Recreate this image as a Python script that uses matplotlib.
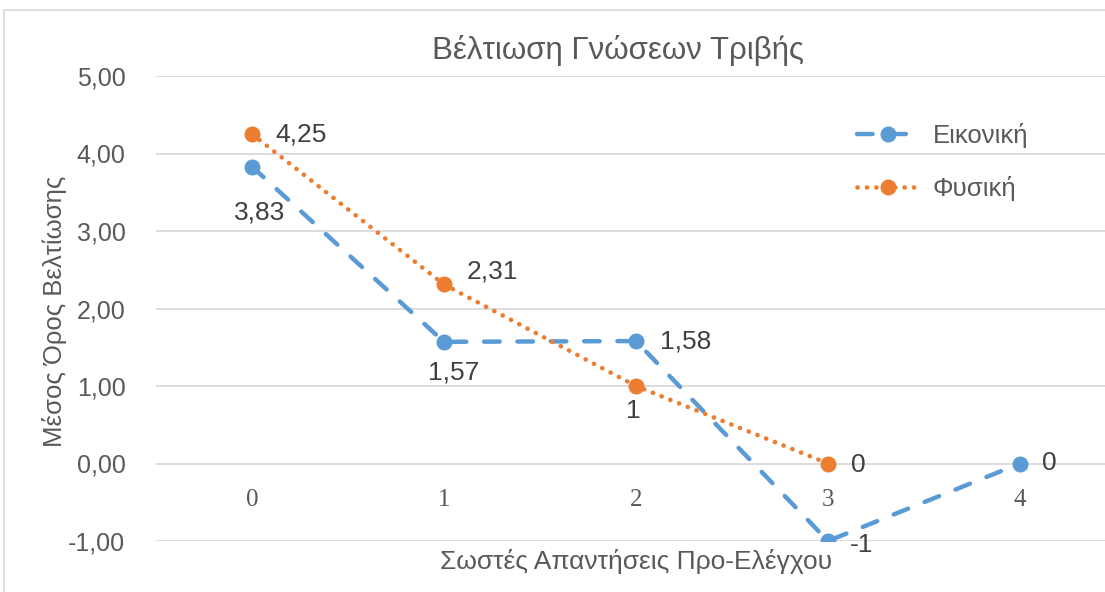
import matplotlib
matplotlib.use("Agg")
import matplotlib.pyplot as plt
from matplotlib.ticker import FuncFormatter, FixedLocator
from matplotlib.patches import Rectangle

categories = [0, 1, 2, 3, 4]
eikoniki = [3.83, 1.57, 1.58, -1, 0]
fysiki_x = [0, 1, 2, 3]
fysiki = [4.25, 2.31, 1, 0]
eik_labels = ["3,83", "1,57", "1,58", "-1", "0"]
fys_labels = ["4,25", "2,31", "1", "0"]

BLUE = "#5B9BD5"
ORANGE = "#ED7D31"
TXT = "#595959"
GRID = "#D9D9D9"

plt.rcParams["font.family"] = ["Liberation Sans", "DejaVu Sans"]

W, H = 1105, 592
fig = plt.figure(figsize=(W / 100, H / 100), dpi=100)
fig.patches.append(Rectangle((4 / W, -0.1), 1.2, 1 - 10 / H + 0.1,
                             transform=fig.transFigure, fill=False,
                             edgecolor=GRID, linewidth=1.2))

ax_l, ax_r, ax_t, ax_b = 156, W, 76, 541
ax = fig.add_axes([ax_l / W, 1 - ax_b / H, (ax_r - ax_l) / W, (ax_b - ax_t) / H])
ax.set_xlim(-0.5, (W - 252) / 192.0)
ax.set_ylim(-1, 5)

ax.yaxis.set_major_locator(FixedLocator([-1, 0, 1, 2, 3, 4, 5]))
ax.yaxis.set_major_formatter(FuncFormatter(lambda v, p: f"{v:.2f}".replace(".", ",")))
ax.grid(axis="y", color=GRID, linewidth=1.3)
ax.set_axisbelow(True)
for s in ax.spines.values():
    s.set_visible(False)
ax.spines["bottom"].set_position(("data", 0))
ax.tick_params(axis="y", length=0, labelsize=18, labelcolor=TXT, pad=22)
ax.set_xticks(categories)
ax.set_xticklabels([str(c) for c in categories], fontfamily="Liberation Serif")
ax.tick_params(axis="x", length=0, labelsize=18, labelcolor=TXT, pad=18)

ax.plot(categories, eikoniki, color=BLUE, linewidth=3.2, linestyle=(0, (3.5, 4.0)),
        marker="o", markersize=10.5, label="Εικονική", dash_capstyle="round",
        solid_capstyle="round", zorder=3)
ax.plot(fysiki_x, fysiki, color=ORANGE, linewidth=3.3, linestyle=(0, (0.05, 2.0)),
        marker="o", markersize=10.5, label="Φυσική", dash_capstyle="round", zorder=4)

lab_kw = dict(fontsize=19, color="#404040")
# (dx, dy) offsets in pixels from the point, and alignment
eik_off = [((8, -46), "center"), ((10, -31), "center"), ((24, 0), "left"),
           ((22, -4), "left"), ((22, 0), "left")]
fys_off = [((23, 0), "left"), ((23, 13), "left"), ((-3, -25), "center"), ((23, -2), "left")]
px2pt = 72 / 100
for x, y, t, ((dx, dy), ha) in zip(categories, eikoniki, eik_labels, eik_off):
    ax.annotate(t, (x, y), xytext=(dx * px2pt, dy * px2pt), textcoords="offset points",
                ha=ha, va="center", **lab_kw)
for x, y, t, ((dx, dy), ha) in zip(fysiki_x, fysiki, fys_labels, fys_off):
    ax.annotate(t, (x, y), xytext=(dx * px2pt, dy * px2pt), textcoords="offset points",
                ha=ha, va="center", **lab_kw)

leg = ax.legend(loc="upper left",
                bbox_to_anchor=((857 - ax_l) / (ax_r - ax_l), 1 - (123 - ax_t) / (ax_b - ax_t)),
                frameon=False, fontsize=18.5, labelcolor=TXT, handlelength=2.4,
                labelspacing=1.1, handletextpad=0.55, borderpad=0, borderaxespad=0)

fig.text(618 / W, 1 - 50 / H, "Βέλτιωση Γνώσεων Τριβής", ha="center", va="center",
         fontsize=22.5, color=TXT)
fig.text(636 / W, 1 - 561 / H, "Σωστές Απαντήσεις Προ-Ελέγχου", ha="center", va="center",
         fontsize=19, color=TXT)
fig.text(55 / W, 1 - 311 / H, "Μέσος Όρος Βελτίωσης", ha="center", va="center",
         rotation=90, fontsize=18.5, color=TXT)

fig.savefig("out.png", dpi=100)
